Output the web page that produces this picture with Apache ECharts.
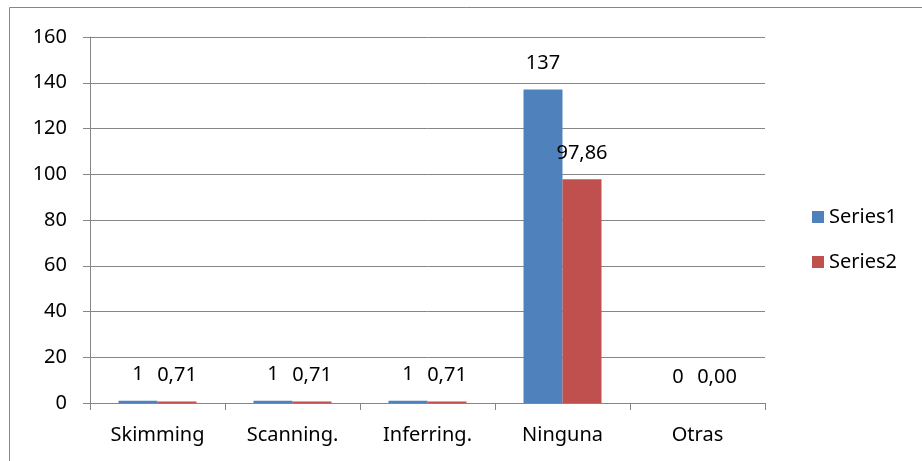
<!DOCTYPE html>
<html>
<head>
<meta charset="utf-8">
<script src="https://cdn.jsdelivr.net/npm/echarts@6/dist/echarts.min.js"></script>
<style>
  html, body { margin: 0; padding: 0; background: #fff; }
  #chart { width: 922px; height: 461px; }
</style>
</head>
<body>
<div id="chart"></div>
<script>
const categories = ['Skimming', 'Scanning.', 'Inferring.', 'Ninguna', 'Otras']
const series1 = [1, 1, 1, 137, 0]
const series2 = [0.71, 0.71, 0.71, 97.86, 0]
const series1Labels = ['1', '1', '1', '137', '0']
const series2Labels = ['0,71', '0,71', '0,71', '97,86', '0,00']

const fontFamily = '"Noto Sans", "Liberation Sans", sans-serif'
const axisColor = '#868686'

const chart = echarts.init(document.getElementById('chart'))
chart.setOption({
  animation: false,
  color: ['#4f81bd', '#c0504d'],
  textStyle: { fontFamily: fontFamily },
  graphic: [{
    type: 'rect',
    shape: { x: 9.5, y: 7.5, width: 940, height: 480 },
    style: { fill: 'none', stroke: '#868686', lineWidth: 1 }
  }],
  grid: {
    left: 90,
    right: 157,
    top: 37,
    bottom: 58
  },
  legend: {
    orient: 'vertical',
    left: 807,
    top: 202,
    itemWidth: 12,
    itemHeight: 12,
    itemGap: 25,
    icon: 'rect',
    data: ['Series1', 'Series2'],
    textStyle: { fontSize: 20, color: '#000', fontFamily: fontFamily }
  },
  xAxis: {
    type: 'category',
    data: categories,
    axisLine: { lineStyle: { color: axisColor, width: 1 } },
    axisTick: { show: true, length: 7, lineStyle: { color: axisColor } },
    axisLabel: { color: '#000', fontSize: 20, margin: 22, fontFamily: fontFamily }
  },
  yAxis: {
    type: 'value',
    min: 0,
    max: 160,
    interval: 20,
    axisLine: { show: true, lineStyle: { color: axisColor, width: 1 } },
    axisTick: { show: true, length: 7, lineStyle: { color: axisColor } },
    axisLabel: { color: '#000', fontSize: 20, margin: 23, fontFamily: fontFamily },
    splitLine: { lineStyle: { color: axisColor, width: 1 } }
  },
  series: [
    {
      name: 'Series1',
      type: 'bar',
      data: series1,
      barWidth: 39,
      barGap: '0%',
      label: {
        show: true,
        position: 'top',
        distance: 16,
        color: '#000',
        fontSize: 20,
        fontFamily: fontFamily,
        formatter: function (p) { return series1Labels[p.dataIndex] }
      }
    },
    {
      name: 'Series2',
      type: 'bar',
      data: series2,
      barWidth: 39,
      barGap: '0%',
      label: {
        show: true,
        position: 'top',
        distance: 16,
        color: '#000',
        fontSize: 20,
        fontFamily: fontFamily,
        formatter: function (p) { return series2Labels[p.dataIndex] }
      }
    }
  ]
})
</script>
</body>
</html>
